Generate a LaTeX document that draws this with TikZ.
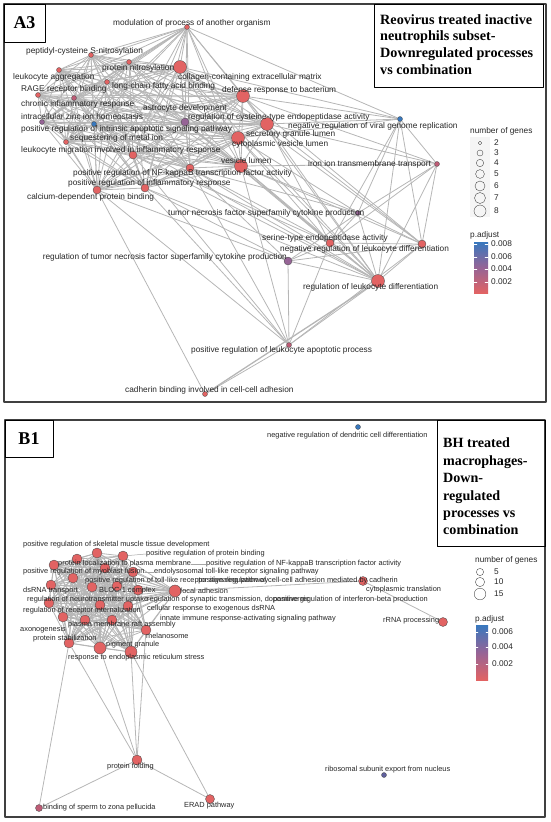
\documentclass[tikz,border=0pt]{standalone}
\usepackage{fontspec}
\newfontfamily\lblfont{Liberation Sans}
\newfontfamily\ttlfont{Liberation Serif}
\usetikzlibrary{backgrounds}
\definecolor{pred}{RGB}{226,99,99}
\definecolor{pblue}{RGB}{56,120,190}
\definecolor{ppurple}{RGB}{150,100,150}
\definecolor{pmauve}{RGB}{190,92,118}
\definecolor{pslate}{RGB}{96,96,158}
\definecolor{edgegray}{RGB}{182,182,182}

\begin{document}
\begin{tikzpicture}[line cap=round,line join=round,x=1pt,y=-1pt,
  term/.style={circle,draw=black!70,line width=0.35pt,inner sep=0pt,fill=pred},
  sm/.style={term,minimum size=5pt},
  md/.style={term,minimum size=8pt},
  lg/.style={term,minimum size=13pt},
  bmd/.style={term,minimum size=10pt},
  blg/.style={term,minimum size=12pt},
  lab/.style={anchor=west,inner sep=0pt,text=black!85,font=\lblfont\fontsize{8.3}{9}\selectfont},
  labb/.style={lab,font=\lblfont\fontsize{7.4}{8}\selectfont},
  edge/.style={draw=edgegray,line width=0.8pt},
  seg/.style={draw=gray!70,line width=0.5pt},
  ttl/.style={anchor=north west,inner sep=0pt,align=left,font=\ttlfont\bfseries\fontsize{14.2}{16.7}\selectfont},
  ttlb/.style={ttl,font=\ttlfont\bfseries\fontsize{14.1}{17.4}\selectfont},
  tag/.style={inner sep=0pt,font=\ttlfont\bfseries\fontsize{18}{18}\selectfont}]
\useasboundingbox (0,0) rectangle (550,822);

%% panel A3
\draw[line width=1.5pt,black!75] (4,4) rectangle (546,402);
\draw[line width=0.8pt] (4,4) rectangle (45,42);
\node[tag] (tagA) at (24.5,23) {A3};
\draw[line width=0.8pt] (374,4) rectangle (543,87);
\node[ttl] (ttlA) at (380,14) {Reovirus treated inactive\\neutrophils subset-\\Downregulated processes\\vs combination};

% terms
\node[sm] (mod) at (187,27) {};
\node[sm] (pcsn) at (91,55) {};
\node[sm] (pnit) at (129,62) {};
\node[lg] (coll) at (180,67) {};
\node[sm] (lagg) at (59,70) {};
\node[sm] (lcfa) at (107,82) {};
\node[sm] (rage) at (38,95) {};
\node[lg] (defb) at (243,96) {};
\node[sm,fill=pmauve] (chir) at (74,98) {};
\node[sm,fill=ppurple] (zinc) at (42,122) {};
\node[sm,fill=pblue] (apop) at (94,124) {};
\node[md,fill=ppurple] (rcys) at (185,122) {};
\node[lg] (nvir) at (267,124) {};
\node[sm] (seq) at (66,142) {};
\node[lg] (sgl) at (238,138) {};
\node[md] (lmig) at (133,155) {};
\node[lg] (vlum) at (241,166) {};
\node[md] (nfkb) at (190,168) {};
\node[md] (pinf) at (145,188) {};
\node[md] (cdpb) at (97,190) {};
\node[sm,fill=pblue] (vblue) at (400,119) {};
\node[sm,fill=pmauve] (iron) at (437,164) {};
\node[sm,fill=ppurple] (tnfp) at (358,213) {};
\node[md] (serine) at (330,243) {};
\node[md] (nld) at (422,244) {};
\node[md,fill=ppurple] (rtnf) at (288,261) {};
\node[lg] (rld) at (378,281) {};
\node[sm,fill=pmauve] (pla) at (289,345) {};
\node[sm] (cad) at (205,394) {};

\begin{pgfonlayer}{background}
\def\meshA{mod,pcsn,pnit,coll,lagg,lcfa,rage,defb,chir,zinc,apop,rcys,nvir,seq,sgl,lmig,vlum,nfkb,pinf,cdpb}
\foreach \a [count=\i] in \meshA {
  \foreach \b [count=\j] in \meshA {
    \ifnum\j>\i \draw[edge] (\a) -- (\b); \fi
  }
}
\foreach \a/\b in {mod/vblue,coll/vblue,defb/vblue,nvir/vblue,sgl/vblue,vblue/iron,vblue/serine,
  vblue/nld,vblue/rld,vblue/tnfp,vlum/iron,nvir/iron,defb/iron,iron/nld,iron/rld,iron/serine,
  iron/tnfp,tnfp/vlum,tnfp/nfkb,tnfp/sgl,tnfp/rtnf,tnfp/rld,tnfp/serine,tnfp/nld,serine/nld,
  serine/rld,nld/rld,rtnf/serine,rtnf/rld,rtnf/nld,defb/rld,defb/nld,nvir/rld,nvir/nld,
  nvir/serine,sgl/rld,sgl/serine,vlum/rld,vlum/nld,vlum/serine,coll/rld,coll/nld,nfkb/serine,
  nfkb/rld,nfkb/rtnf,pinf/rtnf,pinf/rld,lmig/rld,lmig/serine,cdpb/rtnf,rcys/rld,rcys/serine,
  apop/rld,pla/rtnf,pla/rld,pla/serine,pla/nld,pla/nfkb,pla/pinf,pla/cdpb,pla/lmig,pla/vlum,
  cad/cdpb,cad/pla}
  \draw[edge] (\a) -- (\b);
\draw[edge,line width=1.3pt] (cad) -- (rld);
\end{pgfonlayer}

% labels
\node[lab] (t-mod) at (113,23) {modulation of process of another organism};
\node[lab] (t-pcsn) at (26,51) {peptidyl-cysteine S-nitrosylation};
\node[lab] (t-pnit) at (102,68) {protein nitrosylation};
\node[lab] (t-coll) at (178,77) {collagen-containing extracellular matrix};
\node[lab] (t-lagg) at (13,77) {leukocyte aggregation};
\node[lab] (t-lcfa) at (112,86) {long-chain fatty acid binding};
\node[lab] (t-defb) at (222,90) {defense response to bacterium};
\node[lab] (t-rage) at (21,89) {RAGE receptor binding};
\node[lab] (t-chir) at (21,104) {chronic inflammatory response};
\node[lab] (t-astr) at (143,108) {astrocyte development};
\node[lab] (t-zinc) at (21,117) {intracellular zinc ion homeostasis};
\node[lab] (t-rcys) at (188,117) {regulation of cysteine-type endopeptidase activity};
\node[lab] (t-nvir) at (288,126) {negative regulation of viral genome replication};
\node[lab] (t-apop) at (21,129) {positive regulation of intrinsic apoptotic signaling pathway};
\node[lab] (t-seq) at (70,138) {sequestering of metal ion};
\node[lab] (t-sgl) at (246,134) {secretory granule lumen};
\node[lab] (t-cvl) at (232,144) {cytoplasmic vesicle lumen};
\node[lab] (t-lmig) at (21,150) {leukocyte migration involved in inflammatory response};
\node[lab] (t-vlum) at (221,161) {vesicle lumen};
\node[lab] (t-iron) at (308,164) {iron ion transmembrane transport};
\node[lab] (t-nfkb) at (73,173) {positive regulation of NF-kappaB transcription factor activity};
\node[lab] (t-pinf) at (68,183) {positive regulation of inflammatory response};
\node[lab] (t-cdpb) at (27,197) {calcium-dependent protein binding};
\node[lab] (t-tnfp) at (168,213) {tumor necrosis factor superfamily cytokine production};
\node[lab] (t-serine) at (262,238) {serine-type endopeptidase activity};
\node[lab] (t-nld) at (280,249) {negative regulation of leukocyte differentiation};
\node[lab,anchor=east] (t-rtnf) at (287,257) {regulation of tumor necrosis factor superfamily cytokine production};
\node[lab] (t-rld) at (303,287) {regulation of leukocyte differentiation};
\node[lab] (t-pla) at (191,350) {positive regulation of leukocyte apoptotic process};
\node[lab] (t-cad) at (125,390) {cadherin binding involved in cell-cell adhesion};

% legend
\node[lab] (nA) at (470,131) {number of genes};
\fill[gray!8] (470,137) rectangle (490,217);
\foreach \n/\yy/\r in {2/143/1.8,3/153/3,4/163/3.7,5/174/4.4,6/186/5,7/198/5.5,8/211/6}{
  \draw[black!70,line width=0.4pt] (480,\yy) circle (\r);
  \node[lab] (kA\n) at (494,\yy) {\n};
}
\node[lab] (pA) at (470,235) {p.adjust};
\shade[top color=pblue,bottom color=pred,middle color=ppurple] (474,242) rectangle (488,293);
\foreach \v/\yy in {0.008/244,0.006/257,0.004/269,0.002/282}{
  \draw[white,line width=0.4pt] (474,\yy) -- (477,\yy) (485,\yy) -- (488,\yy);
  \node[lab] (vA\v) at (491,\yy) {\v};
}

%% panel B1
\draw[line width=1.8pt,black!75] (5,420) rectangle (545,817);
\draw[line width=0.8pt] (5,420) rectangle (53,457);
\node[tag] (tagB) at (29,439) {B1};
\draw[line width=0.8pt] (437,420) rectangle (545,546);
\node[ttlb] (ttlB) at (443,438) {BH treated\\macrophages-\\Down-\\regulated\\processes vs\\combination};

\node[bmd] (b1) at (77,559) {};
\node[bmd] (b2) at (97,553) {};
\node[bmd] (b3) at (123,556) {};
\node[bmd] (b4) at (54,565) {};
\node[bmd] (b5) at (105,568) {};
\node[bmd] (b6) at (133,572) {};
\node[bmd] (b7) at (73,578) {};
\node[bmd] (b8) at (51,585) {};
\node[bmd] (b9) at (92,587) {};
\node[bmd] (b10) at (117,586) {};
\node[bmd] (b11) at (138,590) {};
\node[blg] (b12) at (175,591) {};
\node[bmd] (b13) at (49,603) {};
\node[bmd] (b14) at (100,605) {};
\node[bmd] (b15) at (128,606) {};
\node[bmd] (b16) at (63,617) {};
\node[bmd] (b17) at (85,620) {};
\node[bmd] (b18) at (112,620) {};
\node[bmd] (b19) at (146,630) {};
\node[bmd] (b20) at (69,643) {};
\node[blg] (b21) at (100,648) {};
\node[blg] (b22) at (131,652) {};
\node[bmd] (pfold) at (137,760) {};
\node[md,minimum size=9pt] (erad) at (210,799) {};
\node[md,minimum size=9pt] (cyto) at (363,581) {};
\node[md,minimum size=9pt] (rrna) at (443,622) {};
\node[md,minimum size=7pt,fill=pmauve] (bind) at (39,808) {};
\node[sm,fill=pblue] (dend) at (358,427) {};
\node[sm,fill=pslate] (ribo) at (384,775) {};

\begin{pgfonlayer}{background}
\def\meshB{b1,b2,b3,b4,b5,b6,b7,b8,b9,b10,b11,b12,b13,b14,b15,b16,b17,b18,b19,b20,b21,b22}
\foreach \a [count=\i] in \meshB {
  \foreach \b [count=\j] in \meshB {
    \ifnum\j>\i \draw[edge] (\a) -- (\b); \fi
  }
}
\foreach \a/\b in {b12/cyto,cyto/rrna,b20/bind,b20/pfold,b21/pfold,b22/pfold,b19/pfold,
  b22/erad,pfold/bind,pfold/erad}
  \draw[edge] (\a) -- (\b);
\end{pgfonlayer}

\node[labb] (u-skm) at (23,545) {positive regulation of skeletal muscle tissue development};
\node[labb] (u-ppb) at (146,554) {positive regulation of protein binding};
\node[labb] (u-plpm) at (58,564) {protein localization to plasma membrane};
\node[labb] (u-nfkb) at (206,564) {positive regulation of NF-kappaB transcription factor activity};
\node[labb] (u-myo) at (23,572) {positive regulation of myoblast fusion};
\node[labb] (u-endo) at (154,572) {endolysosomal toll-like receptor signaling pathway};
\node[labb] (u-tlr) at (85,581) {positive regulation of toll-like receptor signaling pathway};
\node[labb,anchor=east] (u-cdh) at (398,581) {positive regulation of cell-cell adhesion mediated by cadherin};
\node[labb] (u-cyto) at (366,590) {cytoplasmic translation};
\node[labb] (u-dsrt) at (23,591) {dsRNA transport};
\node[labb] (u-bloc) at (99,591) {BLOC-1 complex};
\node[labb] (u-foc) at (180,591) {focal adhesion};
\node[labb] (u-ntu) at (27,600) {regulation of neurotransmitter uptake};
\node[labb] (u-syn) at (147,600) {regulation of synaptic transmission, dopaminergic};
\node[labb,anchor=east] (u-ifn) at (428,600) {positive regulation of interferon-beta production};
\node[labb] (u-exo) at (147,609) {cellular response to exogenous dsRNA};
\node[labb] (u-rint) at (23,611) {regulation of receptor internalization};
\node[labb] (u-inn) at (160,619) {innate immune response-activating signaling pathway};
\node[labb] (u-rrna) at (383,621) {rRNA processing};
\node[labb] (u-raft) at (68,625) {plasma membrane raft assembly};
\node[labb] (u-axo) at (20,630) {axonogenesis};
\node[labb] (u-mel) at (146,636) {melanosome};
\node[labb] (u-stab) at (33,639) {protein stabilization};
\node[labb] (u-pig) at (106,645) {pigment granule};
\node[labb] (u-ers) at (68,658) {response to endoplasmic reticulum stress};
\node[labb] (u-pfold) at (107,767) {protein folding};
\node[labb] (u-bind) at (43,808) {binding of sperm to zona pellucida};
\node[labb] (u-erad) at (184,806) {ERAD pathway};
\node[labb] (u-ribo) at (325,770) {ribosomal subunit export from nucleus};
\node[labb] (u-dend) at (267,436) {negative regulation of dendritic cell differentiation};
\draw[seg] (b3) -- (u-ppb.west);
\draw[seg] (u-plpm.east) -- (u-nfkb.west);
\draw[seg] (u-myo.east) -- (u-endo.west);

% legend
\node[lab] (nB) at (475,560) {number of genes};
\foreach \n/\yy/\r in {5/572/3.6,10/582/4.6,15/594/5.8}{
  \draw[black!70,line width=0.4pt] (480,\yy) circle (\r);
  \node[lab] (kB\n) at (494,\yy) {\n};
}
\node[lab] (pB) at (475,619) {p.adjust};
\shade[top color=pblue,bottom color=pred,middle color=ppurple] (476,625) rectangle (488,680);
\foreach \v/\yy in {0.006/632,0.004/647,0.002/664}{
  \draw[white,line width=0.4pt] (476,\yy) -- (478,\yy) (486,\yy) -- (488,\yy);
  \node[lab] (vB\v) at (492,\yy) {\v};
}
\end{tikzpicture}
\end{document}
